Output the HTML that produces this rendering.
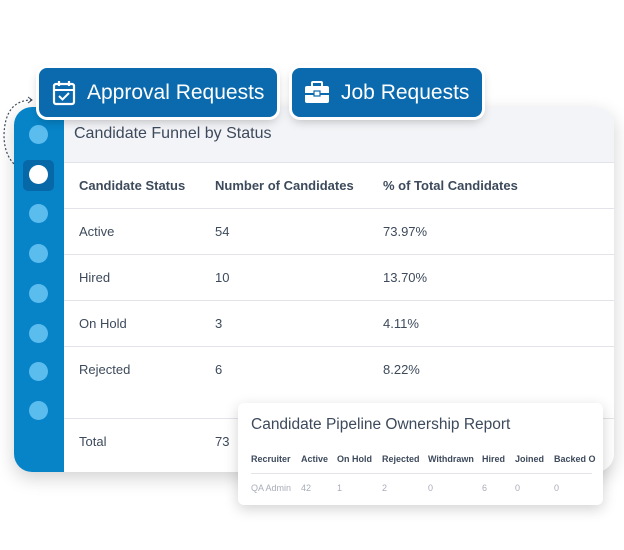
<!DOCTYPE html>
<html><head><style>
body{margin:0;width:624px;height:550px;background:#fff;position:relative;overflow:hidden;font-family:"Liberation Sans",sans-serif;}
.card{position:absolute;left:14px;top:107px;width:600px;height:365px;background:#fff;border-radius:18px;box-shadow:0 6px 18px rgba(0,0,0,0.18);overflow:hidden;}
.side{position:absolute;left:0;top:0;width:50px;height:100%;background:#0784c8;}
.hdr{position:absolute;left:50px;top:0;right:0;height:55px;background:#f3f4f7;border-bottom:1px solid #e2e4ea;}
.t{position:absolute;color:#3d4a5c;font-size:13px;}
.line{position:absolute;left:50px;right:0;height:1px;background:#e2e4ea;}
.dot{position:absolute;left:15px;width:19px;height:19px;border-radius:50%;background:#5bbcee;}
.btn{position:absolute;top:68px;height:49px;background:#0a6aad;border-radius:8px;box-shadow:0 0 0 3px #fff,0 4px 10px rgba(0,0,0,0.25);color:#fff;font-size:21px;line-height:49px;}
.mini{position:absolute;left:238px;top:403px;width:365px;height:102px;background:#fff;border-radius:6px;box-shadow:0 4px 14px rgba(0,0,0,0.18);}
.m{position:absolute;font-size:9px;color:#3d4a5c;font-weight:bold;top:51px;}
.v{position:absolute;font-size:9px;color:#a8adb8;top:80px;}
</style></head><body>
<svg style="position:absolute;left:0;top:90px" width="40" height="90"><path d="M32 10 Q5 10 4 45 Q4 70 22 80" fill="none" stroke="#3d4a5c" stroke-width="1.2" stroke-dasharray="2 2"/><path d="M28 7 L32 10 L28 13" fill="none" stroke="#3d4a5c" stroke-width="1"/></svg>
<div class="card">
<div class="side"></div>
<div style="position:absolute;left:9px;top:53px;width:31px;height:31px;background:#0668a6;border-radius:5px"></div>
<div class="dot" style="top:18px"></div>
<div class="dot" style="top:58px;background:#fff"></div>
<div class="dot" style="top:97px"></div>
<div class="dot" style="top:137px"></div>
<div class="dot" style="top:177px"></div>
<div class="dot" style="top:217px"></div>
<div class="dot" style="top:255px"></div>
<div class="dot" style="top:294px"></div>
<div class="hdr"></div>
<div class="t" style="left:60px;top:18px;font-size:16px;">Candidate Funnel by Status</div>
<div class="t" style="left:65px;top:71px;font-weight:bold;">Candidate Status</div>
<div class="t" style="left:201px;top:71px;font-weight:bold;">Number of Candidates</div>
<div class="t" style="left:369px;top:71px;font-weight:bold;">% of Total Candidates</div>
<div class="line" style="top:101px"></div>
<div class="t" style="left:65px;top:117px">Active</div><div class="t" style="left:201px;top:117px">54</div><div class="t" style="left:369px;top:117px">73.97%</div>
<div class="line" style="top:147px"></div>
<div class="t" style="left:65px;top:163px">Hired</div><div class="t" style="left:201px;top:163px">10</div><div class="t" style="left:369px;top:163px">13.70%</div>
<div class="line" style="top:193px"></div>
<div class="t" style="left:65px;top:209px">On Hold</div><div class="t" style="left:201px;top:209px">3</div><div class="t" style="left:369px;top:209px">4.11%</div>
<div class="line" style="top:239px"></div>
<div class="t" style="left:65px;top:255px">Rejected</div><div class="t" style="left:201px;top:255px">6</div><div class="t" style="left:369px;top:255px">8.22%</div>
<div class="line" style="top:311px"></div>
<div class="t" style="left:65px;top:327px">Total</div><div class="t" style="left:201px;top:327px">73</div>
</div>
<div class="btn" style="left:39px;width:238px;">
<svg style="position:absolute;left:13px;top:12px" width="24" height="26"><rect x="2" y="4" width="20" height="20" rx="2" fill="none" stroke="#fff" stroke-width="2.2"/><line x1="2" y1="10" x2="22" y2="10" stroke="#fff" stroke-width="2"/><line x1="7" y1="1" x2="7" y2="6" stroke="#fff" stroke-width="2.2"/><line x1="17" y1="1" x2="17" y2="6" stroke="#fff" stroke-width="2.2"/><path d="M7 16 L10.5 19.5 L17 13" fill="none" stroke="#fff" stroke-width="2"/></svg>
<span style="position:absolute;left:48px">Approval Requests</span></div>
<div class="btn" style="left:292px;width:190px;">
<svg style="position:absolute;left:12px;top:13px" width="26" height="24"><rect x="8" y="1" width="10" height="5" rx="1" fill="none" stroke="#fff" stroke-width="2"/><rect x="1" y="5" width="24" height="17" rx="2" fill="#fff"/><rect x="1" y="12" width="24" height="2" fill="#0a6aad"/><rect x="10" y="10" width="6" height="5" fill="#fff" stroke="#0a6aad" stroke-width="1.2"/></svg>
<span style="position:absolute;left:49px">Job Requests</span></div>
<div class="mini">
<div style="position:absolute;left:13px;top:13px;font-size:15.5px;color:#3d4a5c">Candidate Pipeline Ownership Report</div>
<div class="m" style="left:13px">Recruiter</div><div class="m" style="left:63px">Active</div><div class="m" style="left:99px">On Hold</div><div class="m" style="left:144px">Rejected</div><div class="m" style="left:190px">Withdrawn</div><div class="m" style="left:244px">Hired</div><div class="m" style="left:277px">Joined</div><div class="m" style="left:316px">Backed O</div>
<div style="position:absolute;left:13px;right:11px;top:70px;height:1px;background:#e2e4ea"></div>
<div class="v" style="left:13px">QA Admin</div><div class="v" style="left:63px">42</div><div class="v" style="left:99px">1</div><div class="v" style="left:144px">2</div><div class="v" style="left:190px">0</div><div class="v" style="left:244px">6</div><div class="v" style="left:277px">0</div><div class="v" style="left:316px">0</div>
</div>
</body></html>
